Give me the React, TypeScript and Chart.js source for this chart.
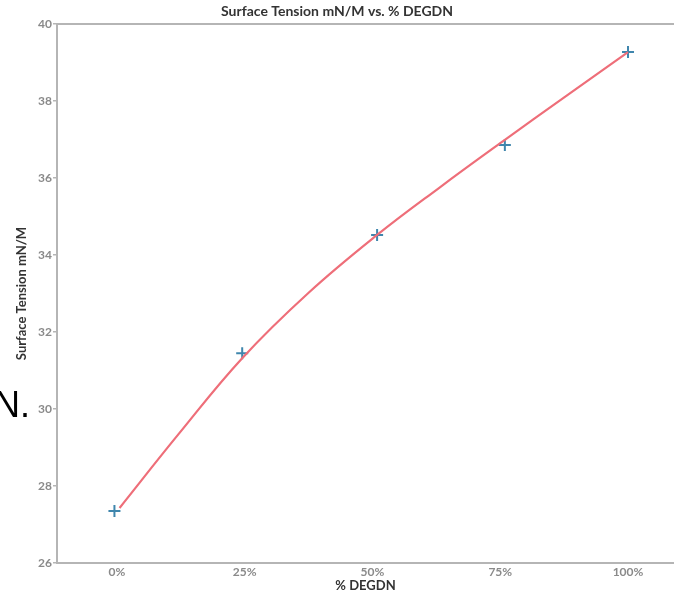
import React, { useEffect, useRef } from "react";
import { Chart, registerables } from "chart.js";

Chart.register(...registerables);

// Measured points (% DEGDN, surface tension mN/M)
const POINT_X = [-0.5, 24.5, 50.9, 75.9, 100];
const POINT_Y = [27.35, 31.45, 34.52, 36.86, 39.27];

// Trend curve
const CURVE_X = [0.5, 12, 24.5, 37.5, 50.9, 63, 75.9, 88, 100];
const CURVE_Y = [27.43, 29.34, 31.32, 33.02, 34.52, 35.74, 36.99, 38.14, 39.27];

const X_TICKS = [0, 25, 50, 75, 100];
const Y_TICKS = [26, 28, 30, 32, 34, 36, 38, 40];

const TITLE = "Surface Tension mN/M vs. % DEGDN";
const X_TITLE = "% DEGDN";
const Y_TITLE = "Surface Tension mN/M";

const FONT = "Lato, 'Open Sans', sans-serif";
const AXIS_COLOR = "#b5b5b5";

const framePlugin = {
  id: "frame",
  afterDatasetsDraw(chart: any) {
    const { ctx, chartArea } = chart;
    ctx.save();
    ctx.strokeStyle = AXIS_COLOR;
    ctx.lineWidth = 2;
    ctx.beginPath();
    ctx.moveTo(chartArea.left, chartArea.top);
    ctx.lineTo(chartArea.right + 10, chartArea.top);
    ctx.moveTo(chartArea.left, chartArea.top);
    ctx.lineTo(chartArea.left, chartArea.bottom);
    ctx.lineTo(chartArea.right + 10, chartArea.bottom);
    ctx.stroke();
    ctx.restore();
  },
};

export default function App() {
  const ref = useRef<HTMLCanvasElement>(null);

  useEffect(() => {
    if (!ref.current) return;
    const chart = new Chart(ref.current, {
      type: "scatter",
      data: {
        datasets: [
          {
            type: "line",
            data: CURVE_X.map((x, i) => ({ x, y: CURVE_Y[i] })),
            borderColor: "#ee6e79",
            borderWidth: 2.2,
            pointRadius: 0,
            tension: 0.4,
            fill: false,
          } as any,
          {
            type: "scatter",
            data: POINT_X.map((x, i) => ({ x, y: POINT_Y[i] })),
            pointStyle: "cross",
            pointRadius: 6,
            pointBorderWidth: 2,
            borderColor: "#3f86ad",
            backgroundColor: "#3f86ad",
          } as any,
        ],
      },
      options: {
        animation: false,
        responsive: true,
        maintainAspectRatio: false,
        layout: { autoPadding: false, padding: { left: 0, right: 0, top: 0, bottom: 0 } },
        plugins: {
          legend: { display: false },
          tooltip: { enabled: false },
          title: {
            display: true,
            text: TITLE,
            color: "#333333",
            font: { family: FONT, size: 14, weight: "bold" },
            padding: { top: 3, bottom: 4.2 },
          },
        },
        scales: {
          x: {
            type: "linear",
            min: -11.74,
            max: 109,
            afterBuildTicks: (axis: any) => {
              axis.ticks = X_TICKS.map((v) => ({ value: v }));
            },
            afterFit: (axis: any) => {
              axis.height = 32;
              axis.paddingLeft = 0;
              axis.paddingRight = 0;
            },
            grid: { display: false, drawTicks: false },
            border: { display: false },
            ticks: {
              color: "#8a8a8a",
              font: { family: FONT, size: 12, weight: "bold" },
              padding: 2,
              maxRotation: 0,
              callback: (v: any) => v + "%",
            },
            title: {
              display: true,
              text: X_TITLE,
              color: "#333333",
              font: { family: FONT, size: 13, weight: "bold" },
              padding: { top: 0, bottom: 1 },
            },
          },
          y: {
            type: "linear",
            min: 26,
            max: 40,
            afterBuildTicks: (axis: any) => {
              axis.ticks = Y_TICKS.map((v) => ({ value: v }));
            },
            afterFit: (axis: any) => {
              axis.width = 57;
              axis.paddingTop = 0;
              axis.paddingBottom = 0;
            },
            grid: {
              drawOnChartArea: false,
              drawTicks: true,
              tickLength: 4,
              color: AXIS_COLOR,
              lineWidth: 1.5,
            },
            border: { display: false },
            ticks: {
              color: "#8a8a8a",
              font: { family: FONT, size: 12, weight: "bold" },
              padding: 1,
            },
            title: {
              display: true,
              text: Y_TITLE,
              color: "#333333",
              font: { family: FONT, size: 13, weight: "bold" },
              padding: { top: 14, bottom: 0 },
            },
          },
        },
      },
      plugins: [framePlugin],
    });
    return () => chart.destroy();
  }, []);

  return (
    <div style={{ position: "absolute", left: 0, top: 0, width: 674, height: 595, overflow: "hidden", background: "#fff" }}>
      <canvas ref={ref} />
      <div
        style={{
          position: "absolute",
          left: -6,
          top: 387,
          fontFamily: "'Liberation Sans', Arial, sans-serif",
          fontSize: 36,
          lineHeight: 1,
          color: "#000",
          pointerEvents: "none",
        }}
      >
        N.
      </div>
    </div>
  );
}
